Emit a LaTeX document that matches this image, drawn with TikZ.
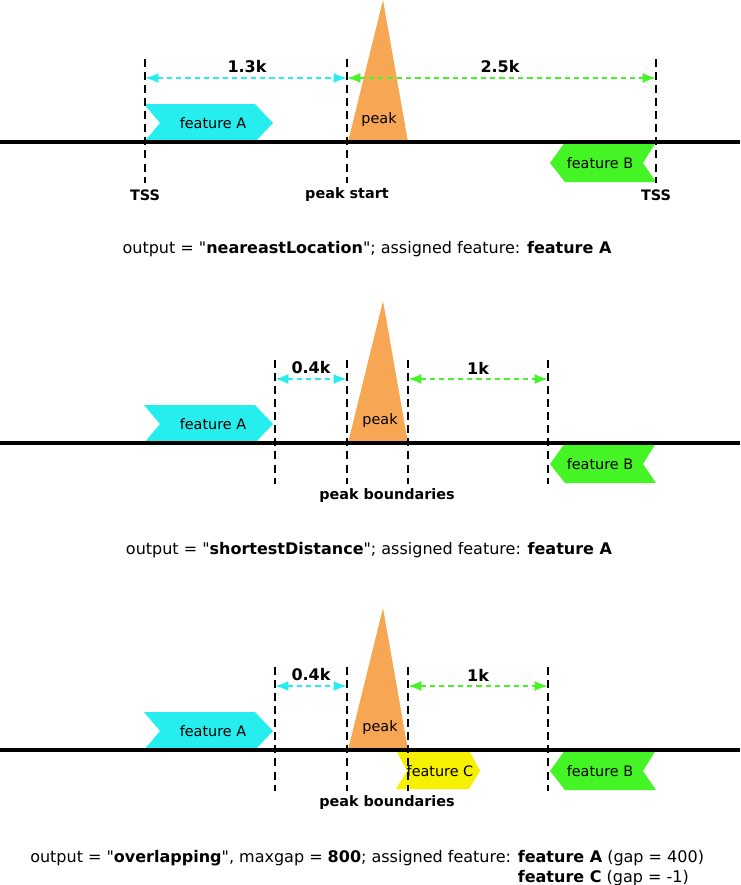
\documentclass[tikz,border=0pt]{standalone}
\usepackage{fontspec}
\setmainfont{DejaVu Sans}
\usetikzlibrary{arrows.meta}

\definecolor{featcyan}{HTML}{26EEEE}
\definecolor{featgreen}{HTML}{44F425}
\definecolor{featyellow}{HTML}{F7F000}
\definecolor{peakorange}{HTML}{F7A654}

\newcommand{\qt}{\textquotedbl}

\begin{document}
\begin{tikzpicture}
[
    x=0.75pt, y=-0.75pt,
    every node/.style={inner sep=0pt, font=\fontsize{10.8}{15}\selectfont},
    genome/.style={line width=2.3pt},
    guide/.style={line width=1.5pt, dash pattern=on 6pt off 3.8pt},
    gaparrow/.style={line width=1.5pt, dash pattern=on 4pt off 3pt,
        {Latex[length=10pt,width=7.5pt]}-{Latex[length=10pt,width=7.5pt]}},
    dist/.style={font=\bfseries\fontsize{12}{15}\selectfont},
    tag/.style={font=\bfseries\fontsize{10.8}{15}\selectfont},
    caption/.style={font=\fontsize{12}{15}\selectfont},
]
\useasboundingbox (0,0) rectangle (740,885);

% panel 1: nearestLocation
\fill[featcyan] (144,104) -- (255,104) -- (273,123) -- (255,142) -- (144,142) -- (160,123) -- cycle;
\fill[featgreen] (565,142) -- (656,142) -- (643,163) -- (656,182) -- (565,182) -- (550,163) -- cycle;
\fill[peakorange] (383,0) -- (408,142) -- (348,142) -- cycle;
\coordinate (l1) at (0,142);
\coordinate (r1) at (740,142);
\draw[genome] (l1) -- (r1);
\node (fa1) at (213,123) {feature A};
\node (fb1) at (600,163) {feature B};
\node (pk1) at (379,120) {peak};
\foreach \n/\x in {tssA/145, pstart/347, tssB/656} {
    \coordinate (top\n) at (\x,59);
    \coordinate (bot\n) at (\x,183);
    \coordinate (mid\n) at (\x,78);
    \draw[guide] (top\n) -- (bot\n);
}
\draw[gaparrow, featcyan] (midtssA) -- (midpstart);
\draw[gaparrow, featgreen] (midpstart) -- (midtssB);
\node[dist] (d1a) at (247,67) {1.3k};
\node[dist] (d1b) at (500,67) {2.5k};
\node[tag] (t1a) at (145,195) {TSS};
\node[tag] (t1b) at (347,195) {peak start};
\node[tag] (t1c) at (656,195) {TSS};
\node[caption, anchor=base] (cap1) at (367,253)
    {output = \qt\textbf{neareastLocation}\qt; assigned feature: \textbf{feature A}};

% panels 2 and 3: shortestDistance, overlapping
\foreach \p/\dy in {2/301, 3/608} {
\begin{scope}[shift={(0,\dy)}]
    \fill[featcyan] (144,104) -- (255,104) -- (273,123) -- (255,142) -- (144,142) -- (160,123) -- cycle;
    \fill[featgreen] (565,142) -- (656,142) -- (643,163) -- (656,182) -- (565,182) -- (550,163) -- cycle;
    \ifnum\p=3
        \fill[featyellow] (396,142) -- (469,142) -- (480,163) -- (469,181) -- (396,181) -- (407,163) -- cycle;
        \node (fc\p) at (440,163) {feature C};
    \fi
    \fill[peakorange] (383,0) -- (408,142) -- (348,142) -- cycle;
    \coordinate (l\p) at (0,142);
    \coordinate (r\p) at (740,142);
    \draw[genome] (l\p) -- (r\p);
    \node (fa\p) at (213,123) {feature A};
    \node (fb\p) at (600,163) {feature B};
    \node (pk\p) at (380,120) {peak};
    \foreach \n/\x in {endA/275, pleft/347, pright/408, endB/548} {
        \coordinate (top\n\p) at (\x,59);
        \coordinate (bot\n\p) at (\x,183);
        \coordinate (mid\n\p) at (\x,78);
        \draw[guide] (top\n\p) -- (bot\n\p);
    }
    \draw[gaparrow, featcyan] (midendA\p) -- (midpleft\p);
    \draw[gaparrow, featgreen] (midpright\p) -- (midendB\p);
    \node[dist] (d\p a) at (311,67) {0.4k};
    \node[dist] (d\p b) at (478,67) {1k};
    \node[tag] (t\p) at (387,195) {peak boundaries};
\end{scope}
}

\node[caption, anchor=base] (cap2) at (369,554)
    {output = \qt\textbf{shortestDistance}\qt; assigned feature: \textbf{feature A}};
\node[caption, anchor=base west, align=left] (cap3) at (30,882)
    {output = \qt\textbf{overlapping}\qt, maxgap = \textbf{800}; assigned feature: \textbf{feature A} (gap = 400)\\
     \hphantom{output = \qt\textbf{overlapping}\qt, maxgap = \textbf{800}; assigned feature: }\textbf{feature C} (gap = -1)};
\end{tikzpicture}
\end{document}
